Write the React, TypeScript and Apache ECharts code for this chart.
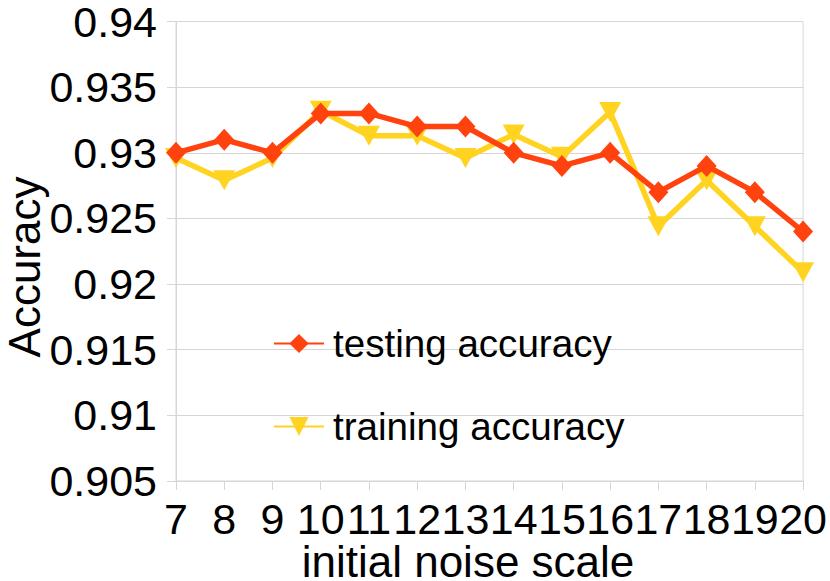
import React, { useEffect, useRef } from "react";
import * as echarts from "echarts";

const categories = ["7", "8", "9", "10", "11", "12", "13", "14", "15", "16", "17", "18", "19", "20"];
const testingAccuracy = [0.93, 0.931, 0.93, 0.933, 0.933, 0.932, 0.932, 0.93, 0.929, 0.93, 0.927, 0.929, 0.927, 0.924];
const trainingAccuracy = [0.9296, 0.9279, 0.9296, 0.9332, 0.9313, 0.9313, 0.9296, 0.9314, 0.9297, 0.9331, 0.9244, 0.9279, 0.9244, 0.9209];
const seriesNames = ["testing accuracy", "training accuracy"];
const xAxisTitle = "initial noise scale";
const yAxisTitle = "Accuracy";

const FONT = "'Liberation Sans', Arial, sans-serif";
const GRID_COLOR = "#d6d6d6";

export default function App() {
  const ref = useRef<HTMLDivElement>(null);
  useEffect(() => {
    if (!ref.current) return;
    const chart = echarts.init(ref.current, null, { renderer: "svg" });
    chart.setOption({
      animation: false,
      backgroundColor: "#ffffff",
      textStyle: { fontFamily: FONT },
      grid: {
        left: 176,
        right: 26,
        top: 19,
        bottom: 100,
        show: true,
        borderColor: GRID_COLOR,
        borderWidth: 1,
      },
      xAxis: {
        type: "category",
        data: categories,
        boundaryGap: false,
        axisLine: { lineStyle: { color: GRID_COLOR, width: 1 } },
        axisTick: { show: true, length: 9, lineStyle: { color: GRID_COLOR } },
        axisLabel: { color: "#000", fontSize: 43, fontFamily: FONT, margin: 16, interval: 0 },
        splitLine: { show: false },
      },
      yAxis: {
        type: "value",
        min: 0.905,
        max: 0.94,
        interval: 0.005,
        axisLine: { show: true, lineStyle: { color: GRID_COLOR, width: 1 } },
        axisTick: { show: true, length: 9, lineStyle: { color: GRID_COLOR } },
        axisLabel: {
          color: "#000",
          fontSize: 43,
          fontFamily: FONT,
          margin: 19,
          formatter: (v: number) => String(parseFloat(v.toFixed(3))),
        },
        splitLine: { show: true, lineStyle: { color: GRID_COLOR, width: 1 } },
      },
      legend: {
        orient: "vertical",
        left: 273,
        top: 324,
        padding: 0,
        itemGap: 44,
        itemWidth: 50,
        itemHeight: 24,
        textStyle: { fontSize: 38.6, color: "#000", fontFamily: FONT, padding: [0, 0, 0, 4] },
        data: seriesNames,
      },
      graphic: [
        {
          type: "text",
          x: 468,
          y: 561,
          style: {
            text: xAxisTitle,
            font: `44px ${FONT}`,
            fill: "#000",
            textAlign: "center",
            textVerticalAlign: "middle",
          },
        },
        {
          type: "text",
          x: 24,
          y: 267,
          rotation: Math.PI / 2,
          style: {
            text: yAxisTitle,
            font: `44px ${FONT}`,
            fill: "#000",
            textAlign: "center",
            textVerticalAlign: "middle",
          },
        },
      ],
      series: [
        {
          name: seriesNames[1],
          type: "line",
          data: trainingAccuracy,
          symbol: "triangle",
          symbolRotate: 180,
          symbolSize: [22, 20],
          lineStyle: { color: "#FFD320", width: 5.5 },
          itemStyle: { color: "#FFD320" },
          z: 2,
        },
        {
          name: seriesNames[0],
          type: "line",
          data: testingAccuracy,
          symbol: "diamond",
          symbolSize: [20, 22],
          lineStyle: { color: "#FF420E", width: 5.5 },
          itemStyle: { color: "#FF420E" },
          z: 3,
        },
      ],
    });
    return () => chart.dispose();
  }, []);
  return (
    <div
      ref={ref}
      style={{ position: "fixed", left: 0, top: 0, width: 830, height: 581 }}
    />
  );
}
